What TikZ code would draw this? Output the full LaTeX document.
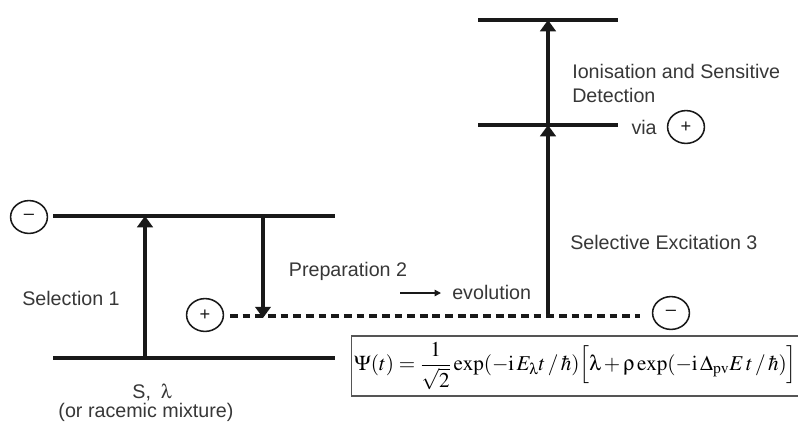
\documentclass[tikz,border=0pt]{standalone}
\usepackage{amsmath}
\usepackage{mathptmx}
\usepackage[Symbol]{upgreek}
\usepackage{fontspec}
\setmainfont{Liberation Sans}
\usepackage{tikz}
\usetikzlibrary{shapes.geometric, arrows.meta, positioning}
\definecolor{mydark}{RGB}{25,25,25}
\definecolor{mytext}{RGB}{55,55,55}
\definecolor{myframe}{RGB}{85,85,85}
\tikzset{
  level/.style={line width=2.2pt, color=mydark},
  dashlevel/.style={line width=2.2pt, color=mydark, dash pattern=on 5.5pt off 3.5pt},
  arrow/.style={-{Triangle[width=11pt,length=8pt]}, line width=2.2pt, color=mydark},
  thinarrow/.style={-{Triangle[width=4.5pt,length=4.5pt]}, line width=1pt, color=mydark},
  sign/.style={ellipse, draw=mydark, line width=1.1pt, minimum width=0.92cm,
    minimum height=0.82cm, inner sep=0pt, font=\fontsize{13}{15}\selectfont, text=mydark},
  label/.style={font=\fontsize{14}{17}\selectfont, text=mytext, inner sep=0pt},
  formbox/.style={rectangle, draw=myframe, line width=1.1pt, minimum width=11.02cm,
    minimum height=1.5cm, inner sep=2pt}
}
\begin{document}
\begin{tikzpicture}[x=0.025cm, y=-0.025cm]
  \useasboundingbox (0,0) rectangle (798,424);

  % Energy levels
  \coordinate (g1) at (53,358);  \coordinate (g2) at (335,358);
  \coordinate (u1) at (53,216);  \coordinate (u2) at (335,216);
  \coordinate (d1) at (230,316); \coordinate (d2) at (640,316);
  \coordinate (m1) at (478,125); \coordinate (m2) at (618,125);
  \coordinate (t1) at (478,20);  \coordinate (t2) at (618,20);
  \foreach \a/\b in {g1/g2, u1/u2, m1/m2, t1/t2} {
    \draw[level] (\a) -- (\b);
  }
  \draw[dashlevel] (d1) -- (d2);

  % Transitions
  \coordinate (sel0) at (145,358); \coordinate (sel1) at (145,216);
  \coordinate (prep0) at (263,216); \coordinate (prep1) at (263,318);
  \coordinate (exc0) at (548,316); \coordinate (exc1) at (548,125);
  \coordinate (ion1) at (548,20);
  \draw[arrow] (sel0) -- (sel1);
  \draw[arrow] (prep0) -- (prep1);
  \draw[arrow] (exc0) -- (exc1);
  \draw[arrow] (exc1) -- (ion1);

  % Parity signs
  \foreach \name/\x/\y/\sym in {minusL/29/217/--, plusL/205/315/+, minusR/671/313/--, plusR/686/127/+} {
    \node[sign] (\name) at (\x,\y) {\sym};
  }

  % Labels
  \node[label] (selection) at (71,298) {Selection 1};
  \node[label] (preparation) at (348,271) {Preparation 2};
  \node[label, anchor=west] (evolution) at (452,292) {evolution};
  \coordinate (evo0) at (400,293); \coordinate (evo1) at (441,293);
  \draw[thinarrow] (evo0) -- (evo1);
  \node[label, anchor=west] (excitation) at (570,242) {Selective Excitation 3};
  \node[label, anchor=north west, align=left, font=\fontsize{14}{17}\selectfont]
    (ionisation) at (572,64) {Ionisation and Sensitive\\Detection};
  \node[label, left=7pt of plusR] (via) {via};
  \node[label] (species) at (152,393) {S,\enspace$\uplambda$};
  \node[label] (racemic) at (146,412) {(or racemic mixture)};

  % Wave function
  \node[formbox, font=\fontsize{15}{18}\selectfont] (psi) at (575.5,366)
    {$\Psi(t)=\dfrac{1}{\sqrt{2}}\exp(-\mathrm{i}\,E_{\uplambda}t\,/\,\hbar)
     \Bigl[\uplambda+\uprho\exp(-\mathrm{i}\,\Delta_{\mathrm{pv}}E\,t\,/\,\hbar)\Bigr]$};
\end{tikzpicture}
\end{document}
